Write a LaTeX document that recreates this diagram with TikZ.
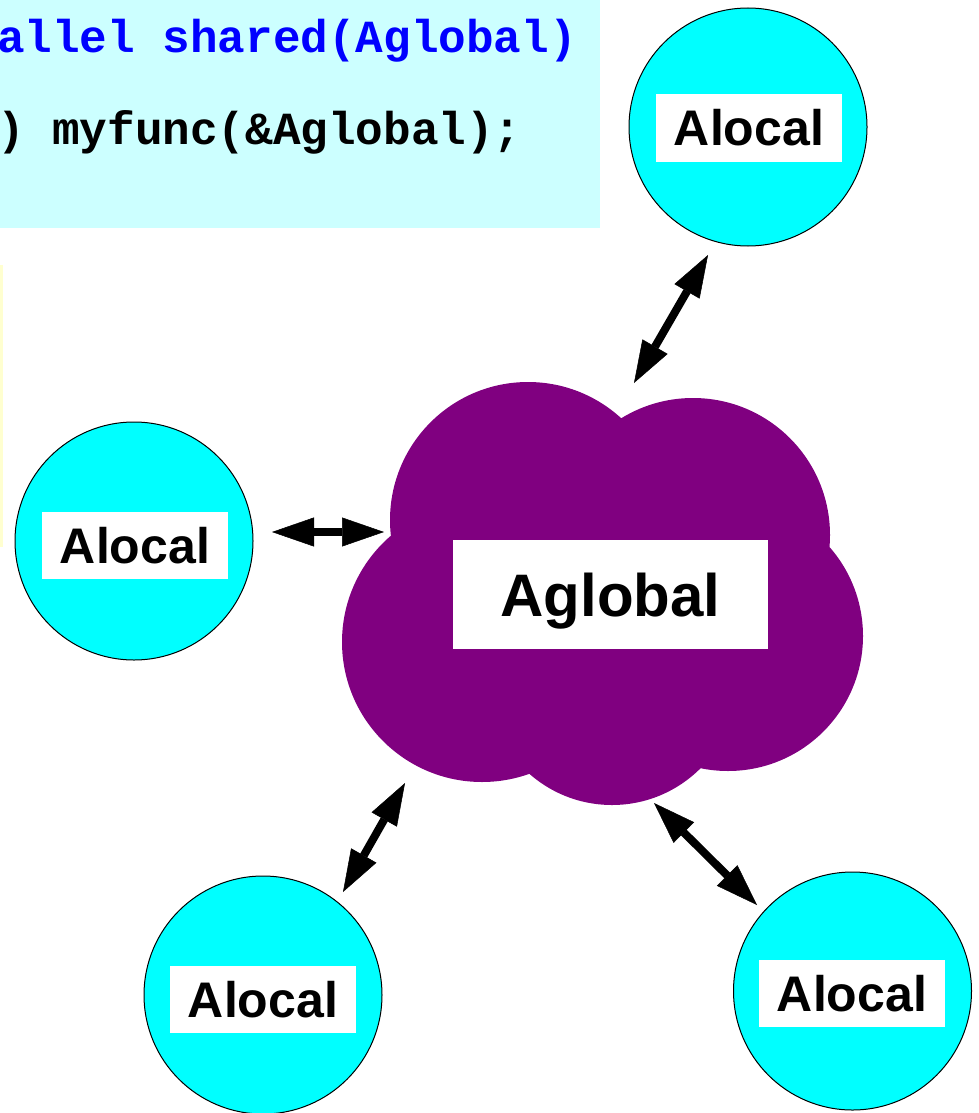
\documentclass[tikz,border=0pt]{standalone}
\usepackage{fontspec}
\setmainfont{Liberation Sans}
\newfontfamily\codefont{Liberation Mono}
\usetikzlibrary{arrows.meta,calc}
\definecolor{codebg}{RGB}{204,255,255}
\definecolor{notebg}{RGB}{255,255,208}
\definecolor{codeblue}{RGB}{0,0,255}
\definecolor{cloudpurple}{RGB}{128,0,128}
\definecolor{localcyan}{RGB}{0,255,255}
\tikzset{
  localvar/.style={circle, draw=black, line width=1pt, fill=localcyan,
    minimum size=238pt, inner sep=0pt},
  tag/.style={fill=white, minimum width=186pt, minimum height=67pt, inner sep=0pt,
    text height=36pt, text depth=0pt, font=\fontsize{50}{50}\selectfont\bfseries},
  bigtag/.style={fill=white, minimum width=315pt, minimum height=109pt, inner sep=0pt,
    text height=43pt, text depth=0pt, font=\fontsize{60}{60}\selectfont\bfseries},
  link/.style={line width=8pt,
    {Triangle[length=42pt,width=29pt,line width=0.5pt]}-{Triangle[length=42pt,width=29pt,line width=0.5pt]}},
  codeline/.style={anchor=base west, inner sep=0pt,
    font=\codefont\fontsize{46}{46}\selectfont\bfseries},
}
\begin{document}
\begin{tikzpicture}[x=1pt,y=-1pt]
\useasboundingbox (0,0) rectangle (979,1113);

% code panel and note strip
\fill[codebg] (0,0) rectangle (600,228);
\fill[notebg] (0,265) rectangle (3,547);
\node[codeline, text=codeblue] (code1) at (-3,53) {allel shared(Aglobal)};
\node[codeline] (code2) at (-3,145) {) myfunc(\&Aglobal);};

% shared variable: cloud made of overlapping lobes
\fill[cloudpurple]
  (528,520) circle[radius=138pt]
  (693,535) circle[radius=137pt]
  (728,636) circle[radius=135pt]
  (612,680) circle[radius=125pt]
  (482,642) circle[radius=140pt];
\node[bigtag] (global) at (610.5,594.5) {Aglobal};

% private copies
\node[localvar] (pn)  at (748,127) {};
\node[localvar] (pw)  at (134,541) {};
\node[localvar] (psw) at (263,995) {};
\node[localvar] (pse) at (852.5,991) {};
\node[tag] (tn)  at (749,128)   {Alocal};
\node[tag] (tw)  at (135,545.5) {Alocal};
\node[tag] (tsw) at (263,999.5) {Alocal};
\node[tag] (tse) at (852,993.5) {Alocal};

% attachment points on the cloud
\coordinate (gn)  at (634,383);
\coordinate (gw)  at (384,532);
\coordinate (gsw) at (405,783);
\coordinate (gse) at (654,803);

% attachment points next to the private copies
\coordinate (en)  at ($(pn)+(-40,128)$);
\coordinate (ew)  at ($(pw)+(138,-9)$);
\coordinate (esw) at ($(psw)+(80,-103)$);
\coordinate (ese) at ($(pse)+(-95.5,-86)$);

\draw[link] (gn)  -- (en);
\draw[link] (ew)  -- (gw);
\draw[link] (gsw) -- (esw);
\draw[link] (gse) -- (ese);
\end{tikzpicture}
\end{document}
